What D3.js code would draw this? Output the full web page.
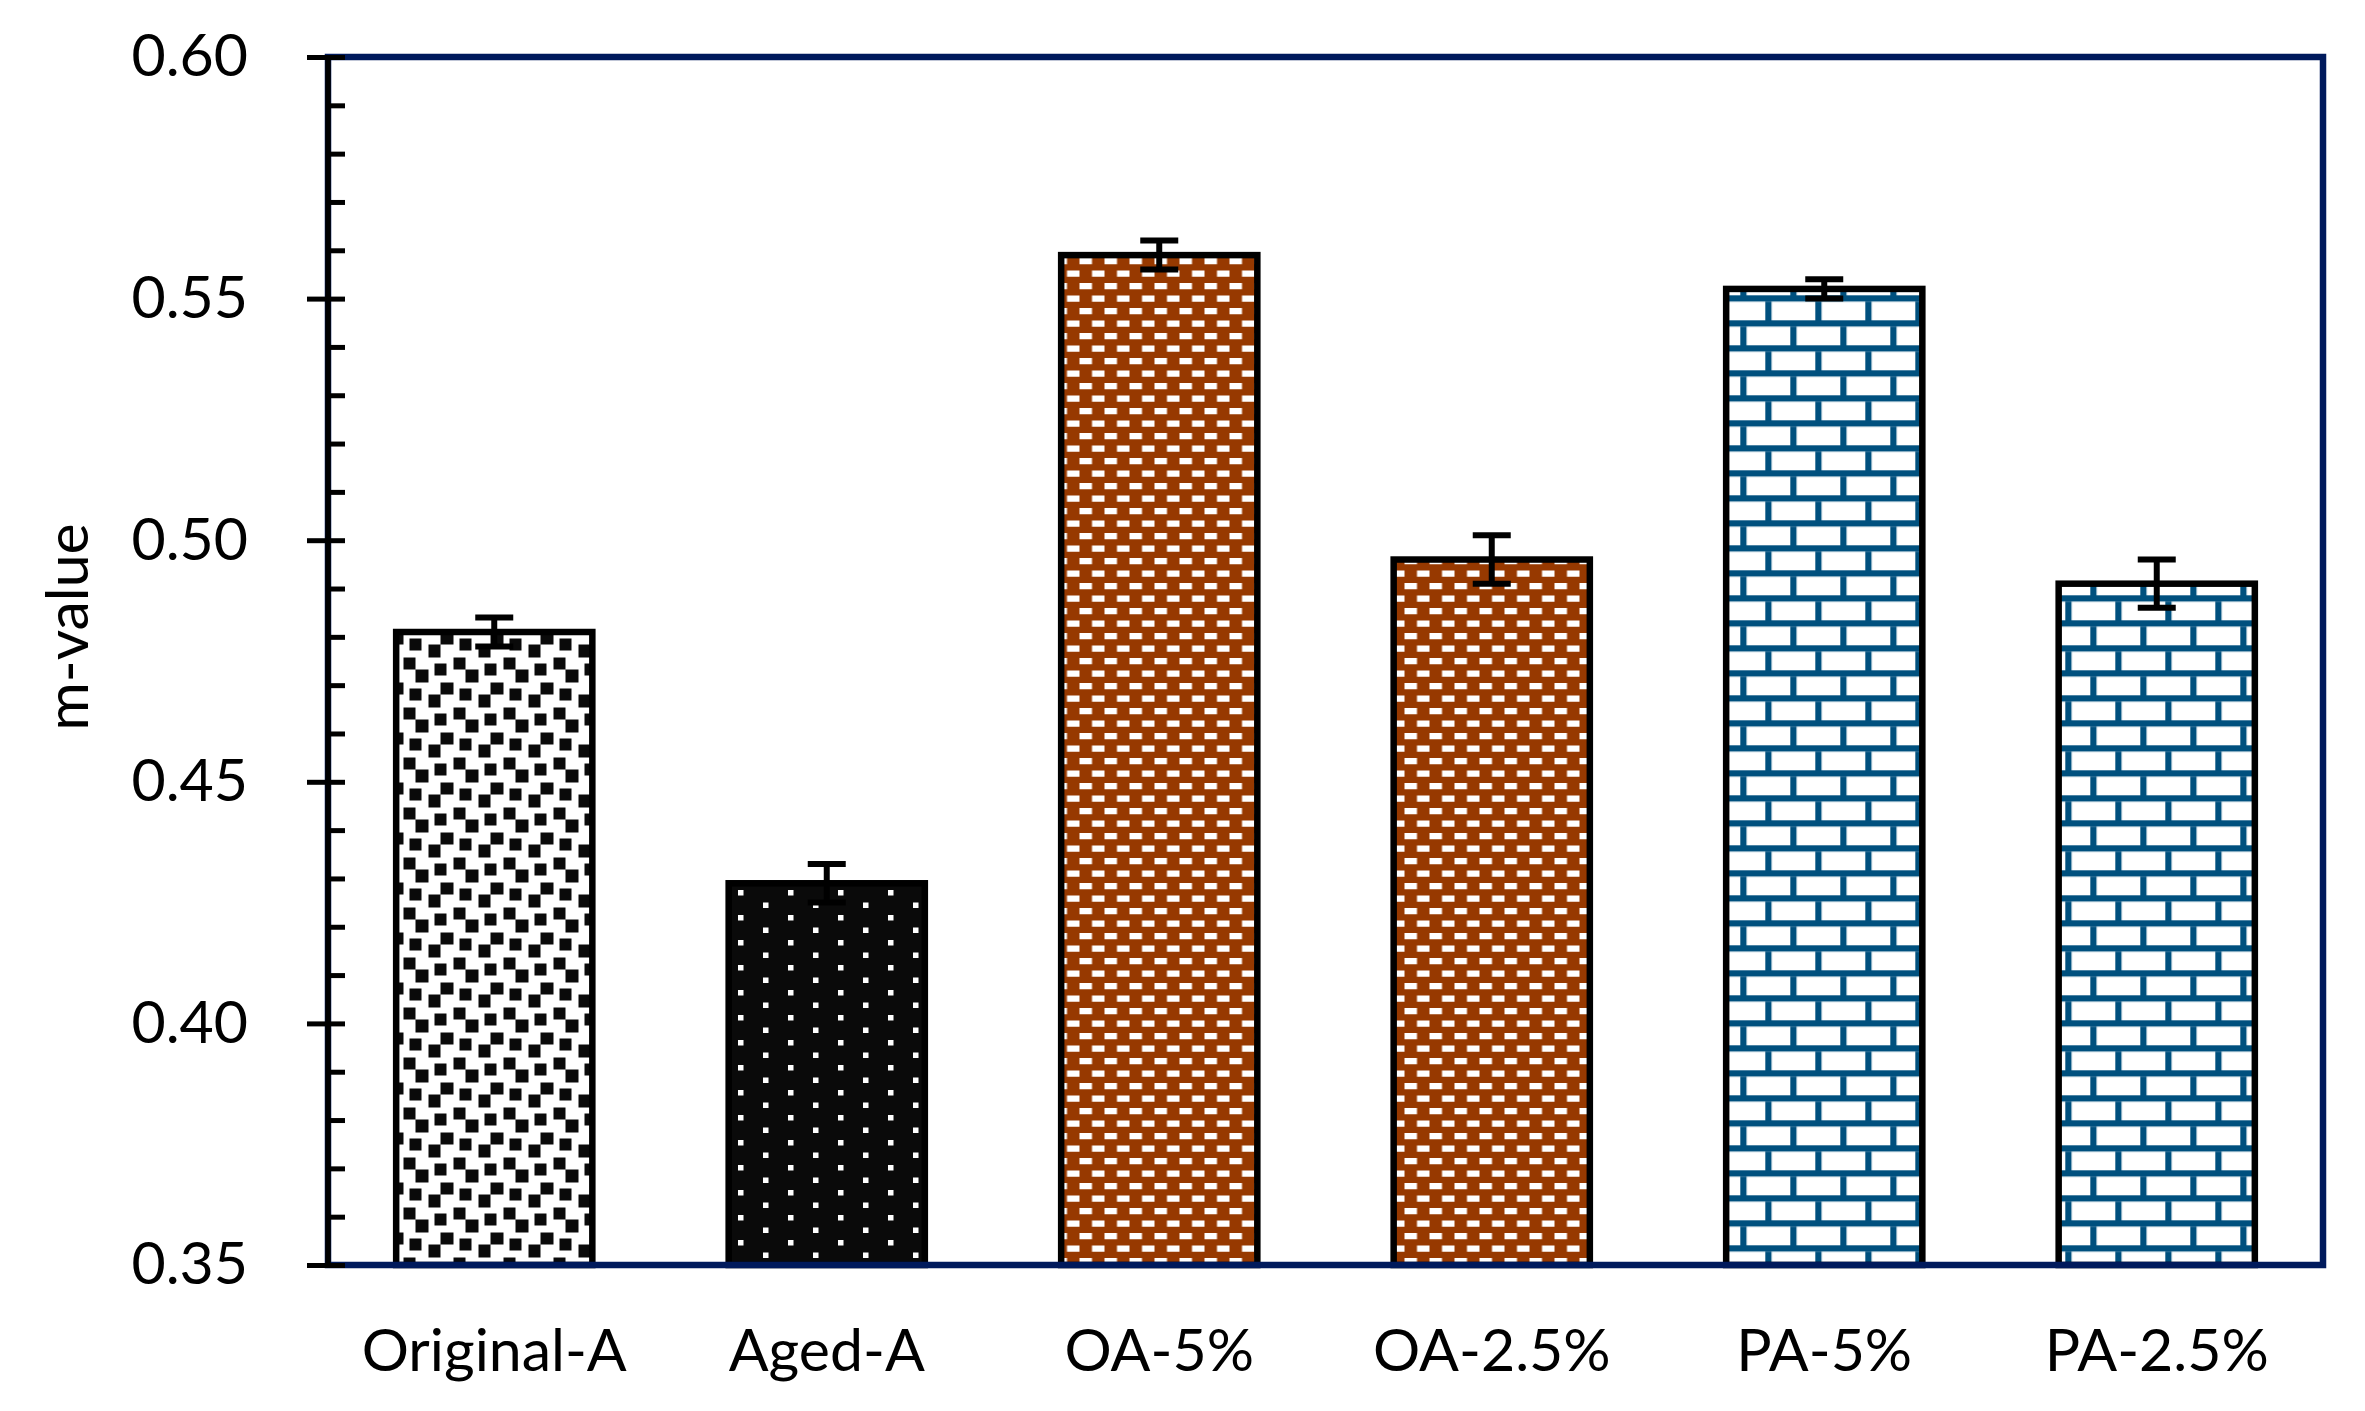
<!DOCTYPE html>
<html>
<head>
<meta charset="utf-8">
<script src="https://cdn.jsdelivr.net/npm/d3@7"></script>
<style>
body { margin: 0; background: #fff; }
text { font-family: Lato, "Open Sans", sans-serif; fill: #000; }
</style>
</head>
<body>
<svg id="myGraph" width="2365" height="1411"></svg>
<script>
// data
let categories = ["Original-A", "Aged-A", "OA-5%", "OA-2.5%", "PA-5%", "PA-2.5%"];
let mValues = [0.481, 0.429, 0.559, 0.496, 0.552, 0.491];
let errValues = [0.003, 0.004, 0.003, 0.005, 0.002, 0.005];
let yTickValues = [0.35, 0.40, 0.45, 0.50, 0.55, 0.60];
let yTitle = "m-value";

let patternIds = ["confetti", "dots", "dashes", "dashes", "brick", "brick"];

let margin = {top: 57, left: 328};
let width = 1995, height = 1208;
let cell = 6.25;

let svg = d3.select("#myGraph");
let defs = svg.append("defs");

// confetti: white with black blocks (8x8 bitmap)
let confettiRows = [0x8d, 0x0c, 0xc0, 0xd8, 0x1b, 0x03, 0x30, 0xb1];
let pc = defs.append("pattern").attr("id", "confetti")
    .attr("patternUnits", "userSpaceOnUse")
    .attr("x", 12.5).attr("y", 12.5)
    .attr("width", cell * 8).attr("height", cell * 8);
pc.append("rect").attr("width", cell * 8).attr("height", cell * 8).attr("fill", "#fff");
confettiRows.forEach(function(bits, r){
    for(let k=0; k<8; k++){
        if(bits & (0x80 >> k)){
            pc.append("rect").attr("x", k * cell).attr("y", r * cell)
              .attr("width", cell).attr("height", cell)
              .attr("fill", "#0a0a0a").attr("shape-rendering", "crispEdges");
        }
    }
});

// dots: black with small white squares
let pd = defs.append("pattern").attr("id", "dots")
    .attr("patternUnits", "userSpaceOnUse")
    .attr("x", 10).attr("y", 8)
    .attr("width", 50).attr("height", 25);
pd.append("rect").attr("width", 50).attr("height", 25).attr("fill", "#0a0a0a");
[[0, 0], [25, 12.5]].forEach(function(p){
    pd.append("rect").attr("x", p[0]).attr("y", p[1])
      .attr("width", 5.5).attr("height", 5.5).attr("fill", "#fff");
});

// dashes: brown with white short dashes
let pb = defs.append("pattern").attr("id", "dashes")
    .attr("patternUnits", "userSpaceOnUse")
    .attr("x", 1.5).attr("y", 1)
    .attr("width", 25).attr("height", 25);
pb.append("rect").attr("width", 25).attr("height", 25).attr("fill", "#973900");
pb.append("rect").attr("x", 0).attr("y", 0).attr("width", 12.5).attr("height", 6.25).attr("fill", "#fff");
pb.append("rect").attr("x", 12.5).attr("y", 12.5).attr("width", 12.5).attr("height", 6.25).attr("fill", "#fff");

// brick: white with blue mortar
let pk = defs.append("pattern").attr("id", "brick")
    .attr("patternUnits", "userSpaceOnUse")
    .attr("x", 12.3).attr("y", 13.3)
    .attr("width", 50).attr("height", 50);
pk.append("rect").attr("width", 50).attr("height", 50).attr("fill", "#fff");
pk.append("rect").attr("x", 0).attr("y", 0).attr("width", 50).attr("height", cell).attr("fill", "#00507e");
pk.append("rect").attr("x", 0).attr("y", 25).attr("width", 50).attr("height", cell).attr("fill", "#00507e");
pk.append("rect").attr("x", 0).attr("y", cell).attr("width", cell).attr("height", 25 - cell).attr("fill", "#00507e");
pk.append("rect").attr("x", 25).attr("y", 25 + cell).attr("width", cell).attr("height", 25 - cell).attr("fill", "#00507e");

let g = svg.append("g")
    .attr("transform", "translate(" + margin.left + "," + margin.top + ")");

let xScale = d3.scaleBand()
    .domain(categories)
    .range([0, width])
    .paddingInner(0.41)
    .paddingOuter(0.205);

let yScale = d3.scaleLinear()
    .domain([0.35, 0.60])
    .range([height, 0]);

// bars
g.selectAll("rect.bar")
  .data(mValues)
  .enter()
  .append("rect")
  .attr("class", "bar")
  .attr("x", function(d, i){ return xScale(categories[i]); })
  .attr("y", function(d){ return yScale(d); })
  .attr("width", xScale.bandwidth())
  .attr("height", function(d){ return height - yScale(d); })
  .attr("fill", function(d, i){ return "url(#" + patternIds[i] + ")"; })
  .attr("stroke", "#000")
  .attr("stroke-width", 6.5);

// error bars
let capW = 38;
let eb = g.selectAll("g.err")
  .data(mValues)
  .enter()
  .append("g")
  .attr("class", "err")
  .attr("stroke", "#000")
  .attr("stroke-width", 6);
eb.append("line")
  .attr("x1", function(d, i){ return xScale(categories[i]) + xScale.bandwidth() / 2; })
  .attr("x2", function(d, i){ return xScale(categories[i]) + xScale.bandwidth() / 2; })
  .attr("y1", function(d, i){ return yScale(d + errValues[i]); })
  .attr("y2", function(d, i){ return yScale(d - errValues[i]); });
[1, -1].forEach(function(s){
    eb.append("line")
      .attr("x1", function(d, i){ return xScale(categories[i]) + xScale.bandwidth() / 2 - capW / 2; })
      .attr("x2", function(d, i){ return xScale(categories[i]) + xScale.bandwidth() / 2 + capW / 2; })
      .attr("y1", function(d, i){ return yScale(d + s * errValues[i]); })
      .attr("y2", function(d, i){ return yScale(d + s * errValues[i]); });
});

// plot frame
g.append("rect")
  .attr("width", width)
  .attr("height", height)
  .attr("fill", "none")
  .attr("stroke", "#001a5c")
  .attr("stroke-width", 6.5);

// y axis: outward major ticks with labels
let yAxis = g.append("g")
  .call(d3.axisLeft(yScale).tickValues(yTickValues).tickSize(21).tickPadding(59)
        .tickFormat(d3.format(".2f")));
yAxis.select(".domain").remove();
yAxis.selectAll("line").attr("stroke", "#000").attr("stroke-width", 5);
yAxis.selectAll("text").style("font-size", "59px").attr("dy", "0.32em");

// inner ticks every 0.01
let minorVals = d3.range(0, 26).map(function(i){ return +(0.35 + i * 0.01).toFixed(2); });
let yInner = g.append("g")
  .call(d3.axisRight(yScale).tickValues(minorVals).tickSize(17).tickFormat(""));
yInner.select(".domain").remove();
yInner.selectAll("line").attr("stroke", "#000").attr("stroke-width", 5);

// y axis line
g.append("line")
  .attr("x1", 0).attr("x2", 0)
  .attr("y1", yScale(0.60)).attr("y2", yScale(0.35))
  .attr("stroke", "#000").attr("stroke-width", 5.5);

// category labels
g.selectAll("text.cat")
  .data(categories)
  .enter()
  .append("text")
  .attr("class", "cat")
  .attr("x", function(d){ return xScale(d) + xScale.bandwidth() / 2; })
  .attr("y", height + 106)
  .attr("text-anchor", "middle")
  .style("font-size", "59px")
  .text(function(d){ return d; });

// y title
svg.append("text")
  .attr("transform", "translate(88,627) rotate(-90)")
  .attr("text-anchor", "middle")
  .style("font-size", "59px")
  .text(yTitle);
</script>
</body>
</html>
